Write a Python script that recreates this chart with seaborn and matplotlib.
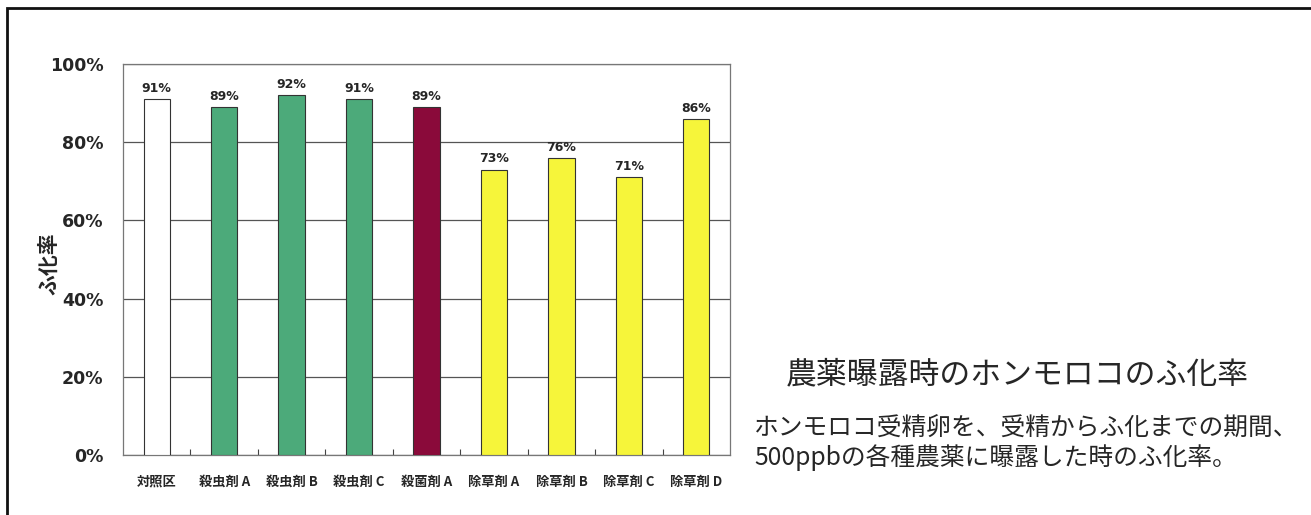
import matplotlib
matplotlib.use("Agg")
import matplotlib.pyplot as plt
import seaborn as sns
import pandas as pd
from matplotlib.patches import Rectangle

categories = ["対照区", "殺虫剤 A", "殺虫剤 B", "殺虫剤 C", "殺菌剤 A",
              "除草剤 A", "除草剤 B", "除草剤 C", "除草剤 D"]
hatch_rate = [0.91, 0.89, 0.92, 0.91, 0.89, 0.73, 0.76, 0.71, 0.86]
bar_labels = ["91%", "89%", "92%", "91%", "89%", "73%", "76%", "71%", "86%"]
yticks = [0.0, 0.2, 0.4, 0.6, 0.8, 1.0]
ytick_labels = ["0%", "20%", "40%", "60%", "80%", "100%"]
colors = ["#ffffff", "#4caa7a", "#4caa7a", "#4caa7a", "#8a0a3a",
          "#f6f53a", "#f6f53a", "#f6f53a", "#f6f53a"]

title_text = "農薬曝露時のホンモロコのふ化率"
desc_lines = ["ホンモロコ受精卵を、受精からふ化までの期間、",
              "500ppbの各種農薬に曝露した時のふ化率。"]

sns.set_theme(style="white")
plt.rcParams['font.family'] = ['Noto Sans CJK JP', 'DejaVu Sans']

df = pd.DataFrame({"cat": categories, "rate": hatch_rate})

fig = plt.figure(figsize=(13.11, 5.15), dpi=100)
ax = fig.add_axes([123/1311, 60/515, 607/1311, 391/515])

sns.barplot(data=df, x="cat", y="rate", hue="cat", palette=colors, saturation=1,
            order=categories, hue_order=categories, legend=False,
            width=0.39, edgecolor="#333333", linewidth=0.8, ax=ax, zorder=3)

ax.set_ylim(0, 1.0)
ax.set_xlim(-0.5, len(categories) - 0.5)
ax.set_yticks(yticks)
ax.set_yticklabels(ytick_labels, fontsize=12.5, fontweight="bold", family=['DejaVu Sans'])
ax.yaxis.grid(True, color="#555555", linewidth=0.9, zorder=0)
ax.xaxis.grid(False)
ax.tick_params(axis="y", length=0, pad=14)
ax.set_xticks(range(len(categories)))
ax.set_xticklabels(categories, fontsize=9.5, fontweight="bold")
ax.tick_params(axis="x", length=0, pad=14)
# minor ticks at category boundaries
ax.set_xticks([i + 0.5 for i in range(len(categories) - 1)], minor=True)
ax.tick_params(axis="x", which="minor", direction="in", length=4, color="#444444", width=0.8, bottom=True)

for s in ax.spines.values():
    s.set_color("#777777")
    s.set_linewidth(0.9)

ax.set_xlabel("")
ax.set_ylabel("ふ化率", fontsize=15, fontweight="bold")
ax.yaxis.set_label_coords(-0.105, 0.49)

for p, lab in zip(ax.patches, bar_labels):
    ax.annotate(lab, (p.get_x() + p.get_width() / 2, p.get_height()),
                xytext=(0, 3), textcoords="offset points", ha="center", va="bottom",
                fontsize=9, fontweight="bold", family=['DejaVu Sans'])

fig.text(1017/1311, 1 - 375/515, title_text, ha="center", va="center", fontsize=22.2)
fig.text(754/1311, 1 - 429/515, desc_lines[0], ha="left", va="center", fontsize=17.8)
fig.text(754/1311, 1 - 458/515, desc_lines[1], ha="left", va="center", fontsize=17.8)

fig.patches.append(Rectangle((7/1311, -0.05), 1.2, 1 - 8/515 + 0.05, transform=fig.transFigure,
                             fill=False, edgecolor="#111111", linewidth=2.0))

fig.savefig("out.png", dpi=100, facecolor="white")
